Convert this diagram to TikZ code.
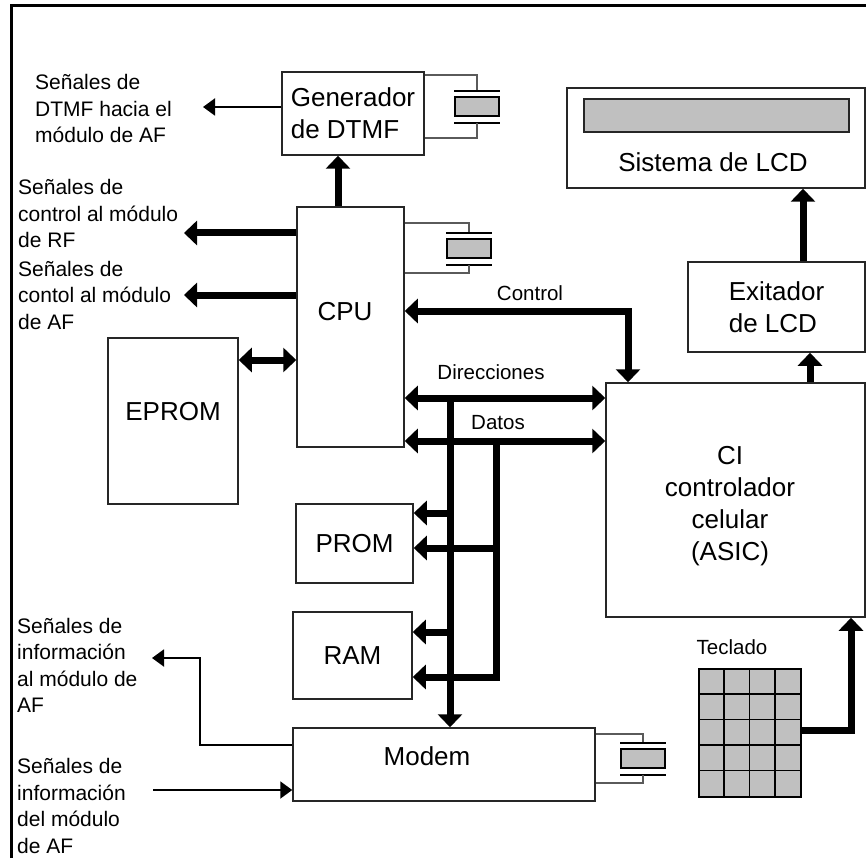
\documentclass[tikz,border=0pt]{standalone}
\usepackage{fontspec}
\setmainfont{Liberation Sans}
\usepackage{tikz}
\usetikzlibrary{arrows.meta}
\definecolor{KeyGray}{HTML}{C0C0C0}
\definecolor{Lead}{HTML}{5A5A5A}
\definecolor{Edge}{HTML}{262626}

\begin{document}
\begin{tikzpicture}[x=1pt,y=-1pt,
  blk/.style={draw=Edge,line width=1.5pt,inner sep=0pt},
  big/.style={font=\fontsize{26}{32}\selectfont},
  small/.style={font=\fontsize{21}{26.5}\selectfont,align=left,anchor=west,inner sep=0pt},
  buslbl/.style={font=\fontsize{20.5}{24}\selectfont,inner sep=0pt},
  bus/.style={line width=7pt,>={Triangle[length=13pt,width=24pt]}},
  sig/.style={line width=2pt,>={Triangle[length=12pt,width=17pt]}},
  lead/.style={draw=Lead,line width=1.5pt}]
  \useasboundingbox (0,0) rectangle (866,858);
  \draw[line width=3pt] (11,858) -- (11,6) -- (866,6);

  \node[blk,big,align=left,minimum width=142pt,minimum height=83pt] (gen) at (353,113.5) {Generador\\de DTMF};
  \node[blk,minimum width=298pt,minimum height=100pt] (lcd) at (716,138) {};
  \node[blk,fill=KeyGray,minimum width=265pt,minimum height=33pt] (lcdbar) at (716.5,115.5) {};
  \node[big] (lcdtxt) at (713,162) {Sistema de LCD};
  \node[blk,big,align=left,minimum width=177pt,minimum height=90pt] (exc) at (776.5,307) {Exitador\\de LCD};
  \node[blk,minimum width=259pt,minimum height=234pt] (asic) at (735.5,500) {};
  \node[big,align=center] (asictxt) at (730,506) {CI\\controlador\\celular\\(ASIC)};
  \node[blk,minimum width=107pt,minimum height=240pt] (cpu) at (350.5,327) {};
  \node[big] (cputxt) at (345,312) {CPU};
  \node[blk,minimum width=130pt,minimum height=166pt] (eprom) at (173,421) {};
  \node[big] (epromtxt) at (173,412) {EPROM};
  \node[blk,big,minimum width=117pt,minimum height=79pt] (prom) at (354.5,543.5) {PROM};
  \node[blk,big,minimum width=119pt,minimum height=87pt] (ram) at (352.5,655.5) {RAM};
  \node[blk,minimum width=302pt,minimum height=73pt] (modem) at (444,764.5) {};
  \node[big] (modemtxt) at (427,756) {Modem};

  \node[draw=black,line width=1.5pt,fill=KeyGray,minimum width=102pt,minimum height=128pt,inner sep=0pt] (kbd) at (750,733) {};
  \foreach \i in {1,2,3}
    \draw[line width=1.5pt] (kbd.north west) ++(25.5*\i,0) -- ++(0,128);
  \foreach \j in {1,...,4}
    \draw[line width=1.5pt] (kbd.north west) ++(0,25.6*\j) -- ++(102,0);
  \node[buslbl] (kbdtxt) at (732,647) {Teclado};

  \foreach \n/\xc/\ya/\p/\yb in {gen/477/75/91/138,cpu/469/223/233/273,modem/643/734/743/783}{
    \draw[lead] (\n.east |- 0,\ya) -- (\xc,\ya) -- (\xc,\p);
    \draw[line width=2pt] (\xc-23,\p) -- (\xc+23,\p);
    \draw[line width=2pt,fill=KeyGray] (\xc-22,\p+6) rectangle (\xc+22,\p+25);
    \draw[line width=1.5pt] (\xc-23,\p+32) -- (\xc+23,\p+32);
    \draw[lead] (\xc,\p+32) -- (\xc,\yb) -- (\n.east |- 0,\yb);
  }

  \node[small] (sigdtmf) at (35,108.5) {Señales de\\DTMF hacia el\\módulo de AF};
  \node[small] (sigrf) at (18,213.5) {Señales de\\control al módulo\\de RF};
  \node[small] (sigaf) at (18,295) {Señales de\\contol al módulo\\de AF};
  \node[small] (siginfa) at (17,665.5) {Señales de\\información\\al módulo de\\AF};
  \node[small] (siginfb) at (17,806) {Señales de\\información\\del módulo\\de AF};

  \coordinate (dtmfout) at (203,107);
  \coordinate (rfout) at (184,233);
  \coordinate (afout) at (184,295);
  \coordinate (dtmfbus) at (338,180);
  \coordinate (eprlink) at (260,360);
  \coordinate (ctlbend) at (628,311);
  \coordinate (addr) at (450,398);
  \coordinate (data) at (496,441);
  \coordinate (pa) at (450,513);
  \coordinate (pd) at (496,548);
  \coordinate (ra) at (450,632);
  \coordinate (rd) at (496,677);
  \coordinate (asicexc) at (810,370);
  \coordinate (exclcd) at (803,220);
  \coordinate (kbend) at (851,730);
  \coordinate (infoout) at (152,658);
  \coordinate (infobend) at (200,745);
  \coordinate (infoin) at (153,790);

  \draw[sig,->] (gen.west |- dtmfout) -- (dtmfout);
  \draw[bus,->] (dtmfbus |- cpu.north) -- (dtmfbus |- gen.south);
  \draw[bus,->] (cpu.west |- rfout) -- (rfout);
  \draw[bus,->] (cpu.west |- afout) -- (afout);
  \draw[bus,<->] (eprlink -| eprom.east) -- (eprlink -| cpu.west);
  \draw[bus,<->,line join=miter] (ctlbend -| cpu.east) -- (ctlbend) -- (ctlbend |- asic.north);
  \draw[bus,<->] (addr -| cpu.east) -- (addr -| asic.west);
  \draw[bus,<->] (data -| cpu.east) -- (data -| asic.west);
  \draw[bus,->] (addr) -- (addr |- modem.north);
  \draw[bus,->,line join=miter] (data) -- (rd) -- (rd -| ram.east);
  \draw[bus,->] (pa) -- (pa -| prom.east);
  \draw[bus,->] (pd) -- (pd -| prom.east);
  \draw[bus,->] (ra) -- (ra -| ram.east);
  \draw[bus,->] (asicexc |- asic.north) -- (asicexc |- exc.south);
  \draw[bus,->] (exclcd |- exc.north) -- (exclcd |- lcd.south);
  \draw[bus,->,line join=miter] (kbend -| kbd.east) -- (kbend) -- (kbend |- asic.south);
  \draw[sig,->] (infobend -| modem.west) -- (infobend) -- (infobend |- infoout) -- (infoout);
  \draw[sig,->] (infoin) -- (infoin -| modem.west);

  \node[buslbl] (ctltxt) at (530,293) {Control};
  \node[buslbl] (addrtxt) at (491,372) {Direcciones};
  \node[buslbl] (datatxt) at (498,423) {Datos};
\end{tikzpicture}
\end{document}
